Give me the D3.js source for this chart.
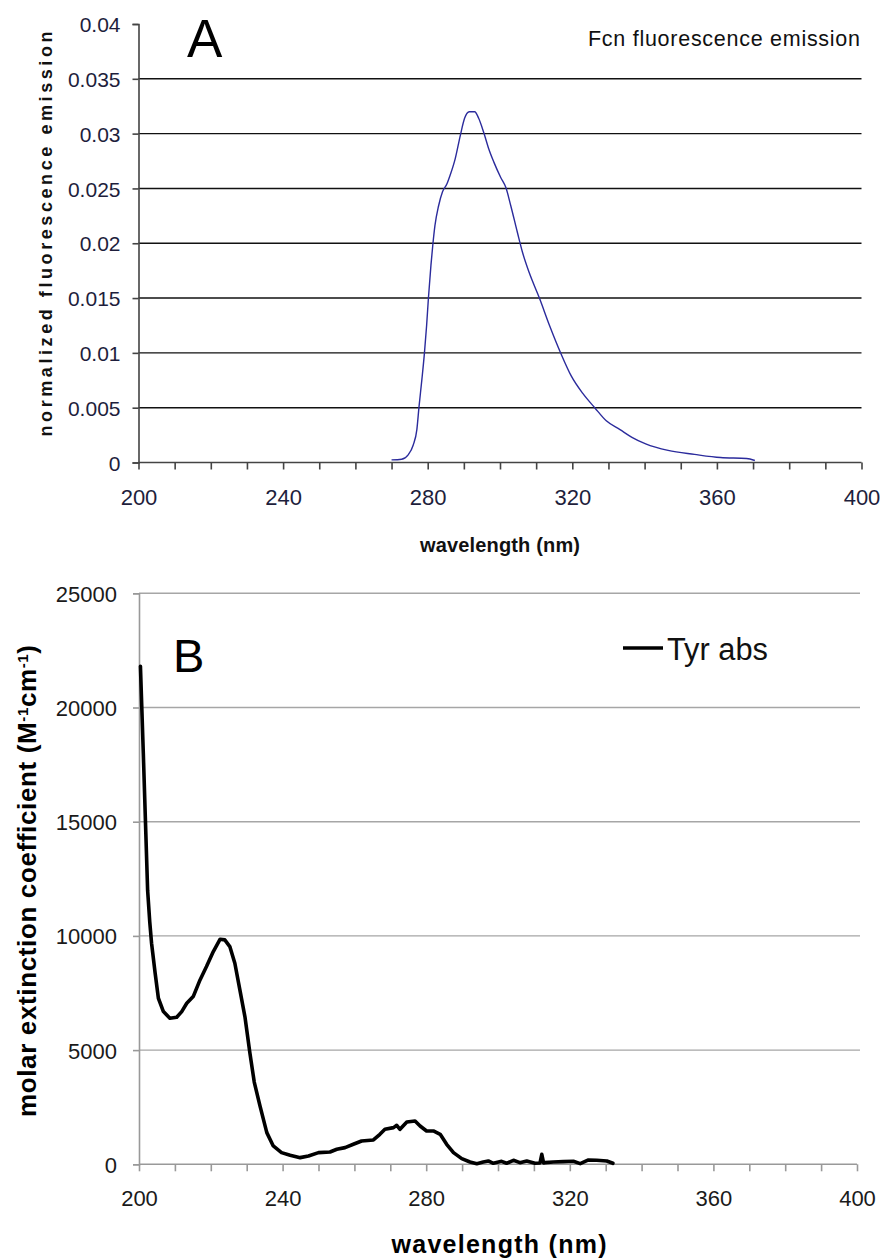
<!DOCTYPE html>
<html>
<head>
<meta charset="utf-8">
<script src="https://cdn.jsdelivr.net/npm/d3@7"></script>
<style>
  html, body { margin: 0; padding: 0; background: #fff; }
  svg { display: block; }
  text { font-family: "Liberation Sans", Arial, sans-serif; }
</style>
</head>
<body>
<svg id="chart" width="883" height="1259"></svg>
<script>
// ---------- Panel A data: Fcn fluorescence emission ----------
const fcnWavelength = [270, 272.8, 274.6, 276, 277, 277.6, 278.4, 279.1, 279.7, 280.2, 280.9, 281.4, 282, 283, 284.1, 285.3, 286.2, 287.6, 289, 290.2, 291.5, 293, 294.1, 295.5, 296.9, 298.3, 300.2, 301.6, 303, 304.8, 306.2, 308.1, 310.9, 313.7, 316.9, 319.7, 322.9, 326.2, 329.4, 333.2, 336.5, 340.3, 346.5, 353.8, 361, 368.2, 370.5];
const fcnEmission   = [0.00024, 0.0003, 0.0007, 0.0016, 0.003, 0.0051, 0.0076, 0.01, 0.0125, 0.015, 0.018, 0.0198, 0.0216, 0.0234, 0.0247, 0.0254, 0.0262, 0.0277, 0.0298, 0.0314, 0.032, 0.032, 0.0314, 0.0301, 0.0286, 0.0274, 0.026, 0.0251, 0.0234, 0.021, 0.0192, 0.0173, 0.015, 0.0125, 0.0099, 0.0079, 0.0063, 0.005, 0.0038, 0.003, 0.0023, 0.0017, 0.0011, 0.00074, 0.00045, 0.00036, 0.00018];
const aYTicks = [0, 0.005, 0.01, 0.015, 0.02, 0.025, 0.03, 0.035, 0.04];
const aYGrid  = [0.005, 0.01, 0.015, 0.02, 0.025, 0.03, 0.035];

// ---------- Panel B data: Tyr absorbance ----------
const tyrWavelength = [200.4, 201.2, 201.9, 202.4, 203.0, 203.5, 204.5, 205.4, 206.8, 208.6, 210.5, 211.9, 213.3, 215.1, 217, 218.8, 220.7, 222.6, 223.9, 225.3, 226.7, 228.1, 229.5, 230.9, 232.1, 233.7, 235.6, 237.4, 239.7, 242.1, 244.9, 247.2, 250, 253.2, 255.1, 257.4, 259.7, 262, 265.3, 267.1, 268.5, 270.9, 271.8, 272.7, 274.6, 276.9, 278.3, 280.1, 282, 283.9, 285.7, 287.6, 289.9, 292.2, 294.1, 295.9, 297.3, 298.7, 301, 302.4, 304.3, 306.1, 308, 310.3, 311.7, 312.2, 312.7, 313.1, 315.4, 318.2, 321, 322.9, 325.2, 327.5, 330.3, 332];
const tyrAbs        = [21800, 18000, 14500, 12000, 10600, 9679, 8365, 7270, 6686, 6394, 6438, 6686, 7051, 7343, 8073, 8657, 9314, 9854, 9825, 9533, 8803, 7635, 6467, 4861, 3600, 2555, 1387, 803, 511, 394, 292, 365, 511, 540, 657, 730, 876, 1022, 1066, 1314, 1533, 1606, 1708, 1533, 1854, 1898, 1679, 1460, 1460, 1314, 876, 511, 248, 102, 29, 102, 146, 44, 131, 44, 175, 73, 146, 44, 60, 438, 60, 73, 102, 117, 131, 29, 190, 175, 146, 44];
const bYTicks = [0, 5000, 10000, 15000, 20000, 25000];
const bYGrid  = [5000, 10000, 15000, 20000, 25000];

// shared x axis ticks
const xTicks = d3.range(200, 401, 10);
const xLabelTicks = [200, 240, 280, 320, 360, 400];

const svg = d3.select("#chart");
const FONT = '"Liberation Sans", Arial, sans-serif';

// =============== Panel A ===============
{
  const x = d3.scaleLinear().domain([200, 400]).range([138.5, 861.5]);
  const y = d3.scaleLinear().domain([0, 0.04]).range([462.5, 24]);
  const g = svg.append("g");

  g.selectAll("line.grid").data(aYGrid).join("line")
    .attr("class", "grid")
    .attr("x1", x(200)).attr("x2", x(400))
    .attr("y1", d => y(d)).attr("y2", d => y(d))
    .attr("stroke", "#111").attr("stroke-width", 1.4);

  const yAxis = d3.axisLeft(y).tickValues(aYTicks).tickSize(6).tickPadding(12)
    .tickFormat(d => d === 0 ? "0" : String(+d.toFixed(3)));
  const ya = g.append("g").attr("transform", `translate(${x(200)},0)`).call(yAxis);
  ya.select(".domain").attr("stroke", "#444").attr("stroke-width", 1.6);
  ya.selectAll(".tick line").attr("stroke", "#444").attr("stroke-width", 1.6);
  ya.selectAll(".tick text").attr("font-family", FONT).attr("font-size", 21)
    .attr("fill", "#1e1e3c").attr("dy", "0.36em");

  const xAxis = d3.axisBottom(x).tickValues(xTicks).tickSize(7)
    .tickFormat(d => xLabelTicks.includes(d) ? String(d) : "");
  const xa = g.append("g").attr("transform", `translate(0,${y(0)})`).call(xAxis);
  xa.select(".domain").attr("stroke", "#444").attr("stroke-width", 1.6).attr("d", `M${x(200)},0H${x(400)}`);
  xa.selectAll(".tick line").attr("stroke", "#444").attr("stroke-width", 1.6);
  xa.selectAll(".tick text").attr("font-family", FONT).attr("font-size", 22)
    .attr("fill", "#1e1e3c").attr("y", 42).attr("dy", 0);

  const pts = fcnWavelength.map((w, i) => [w, fcnEmission[i]]);
  g.append("path").datum(pts)
    .attr("fill", "none").attr("stroke", "#2b2b9c").attr("stroke-width", 1.4)
    .attr("d", d3.line().x(d => x(d[0])).y(d => y(d[1])).curve(d3.curveMonotoneX));

  g.append("text").attr("x", 187).attr("y", 57).attr("font-size", 53).attr("fill", "#000").text("A");
  g.append("text").attr("x", 588).attr("y", 46).attr("font-size", 21.5).attr("fill", "#111")
    .attr("textLength", 272).attr("lengthAdjust", "spacing").text("Fcn fluorescence emission");
  g.append("text").attr("transform", "translate(52,234) rotate(-90)")
    .attr("text-anchor", "middle").attr("font-size", 18).attr("font-weight", "bold").attr("fill", "#111")
    .attr("textLength", 405).attr("lengthAdjust", "spacing").text("normalized fluorescence emission");
  g.append("text").attr("x", 500).attr("y", 552).attr("text-anchor", "middle")
    .attr("font-size", 20).attr("font-weight", "bold").attr("fill", "#111")
    .attr("textLength", 160).attr("lengthAdjust", "spacing").text("wavelength (nm)");
}

// =============== Panel B ===============
{
  const x = d3.scaleLinear().domain([200, 400]).range([139, 857]);
  const y = d3.scaleLinear().domain([0, 25000]).range([1164.3, 593.3]);
  const g = svg.append("g");

  g.selectAll("line.grid").data(bYGrid).join("line")
    .attr("class", "grid")
    .attr("x1", x(200)).attr("x2", 860)
    .attr("y1", d => y(d)).attr("y2", d => y(d))
    .attr("stroke", "#a6a6a6").attr("stroke-width", 1.4);

  const yAxis = d3.axisLeft(y).tickValues(bYTicks).tickSize(6).tickPadding(16)
    .tickFormat(d => String(d));
  const ya = g.append("g").attr("transform", `translate(${x(200)},0)`).call(yAxis);
  ya.select(".domain").attr("stroke", "#999").attr("stroke-width", 1.6);
  ya.selectAll(".tick line").attr("stroke", "#999").attr("stroke-width", 1.6);
  ya.selectAll(".tick text").attr("font-family", FONT).attr("font-size", 22)
    .attr("fill", "#1a1a1a").attr("dy", "0.36em");

  const xAxis = d3.axisBottom(x).tickValues(xTicks).tickSize(7)
    .tickFormat(d => xLabelTicks.includes(d) ? String(d) : "");
  const xa = g.append("g").attr("transform", `translate(0,${y(0)})`).call(xAxis);
  xa.select(".domain").attr("stroke", "#999").attr("stroke-width", 1.6).attr("d", `M${x(200)},0H${x(400)}`);
  xa.selectAll(".tick line").attr("stroke", "#999").attr("stroke-width", 1.6);
  xa.selectAll(".tick text").attr("font-family", FONT).attr("font-size", 22)
    .attr("fill", "#1a1a1a").attr("y", 42).attr("dy", 0);

  const pts = tyrWavelength.map((w, i) => [w, tyrAbs[i]]);
  g.append("path").datum(pts)
    .attr("fill", "none").attr("stroke", "#000").attr("stroke-width", 3.6)
    .attr("stroke-linejoin", "round").attr("stroke-linecap", "round")
    .attr("d", d3.line().x(d => x(d[0])).y(d => y(d[1])));

  g.append("text").attr("x", 173).attr("y", 672).attr("font-size", 47).attr("fill", "#000").text("B");

  g.append("line").attr("x1", 623).attr("x2", 663).attr("y1", 648).attr("y2", 648)
    .attr("stroke", "#000").attr("stroke-width", 3.6);
  g.append("text").attr("x", 667).attr("y", 660).attr("font-size", 31).attr("fill", "#111")
    .attr("textLength", 101).attr("lengthAdjust", "spacingAndGlyphs").text("Tyr abs");

  const yl = g.append("text").attr("transform", "translate(36,881) rotate(-90)")
    .attr("text-anchor", "middle").attr("font-size", 26).attr("font-weight", "bold").attr("fill", "#000")
    .attr("textLength", 472).attr("lengthAdjust", "spacing");
  yl.append("tspan").text("molar extinction coefficient (M");
  yl.append("tspan").attr("font-size", 15).attr("baseline-shift", "super").text("-1");
  yl.append("tspan").text("cm");
  yl.append("tspan").attr("font-size", 15).attr("baseline-shift", "super").text("-1");
  yl.append("tspan").text(")");

  g.append("text").attr("x", 499).attr("y", 1253).attr("text-anchor", "middle")
    .attr("font-size", 25).attr("font-weight", "bold").attr("fill", "#000")
    .attr("textLength", 215).attr("lengthAdjust", "spacing").text("wavelength (nm)");
}
</script>
</body>
</html>
